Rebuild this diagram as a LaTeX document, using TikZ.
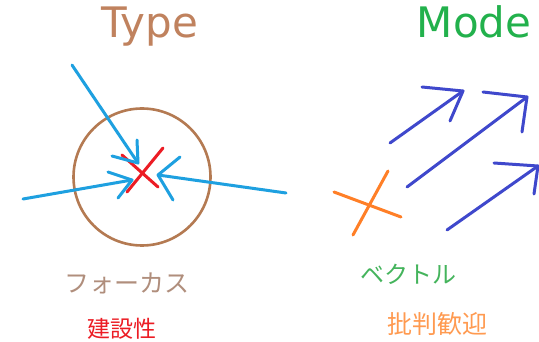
\documentclass[tikz,border=0pt]{standalone}
\usepackage{fontspec}
\newfontfamily\titlefont{DejaVu Sans}
\newfontfamily\jpfont{Noto Sans CJK JP}
\definecolor{cyanb}{HTML}{1EA0E0}
\definecolor{redx}{HTML}{EC1C24}
\definecolor{brownc}{HTML}{B47A52}
\definecolor{brownt}{HTML}{C0825E}
\definecolor{brownj}{HTML}{B08E7C}
\definecolor{greent}{HTML}{22B14C}
\definecolor{greenj}{HTML}{44B45C}
\definecolor{bluem}{HTML}{3F48CC}
\definecolor{orangex}{HTML}{FF7F27}
\definecolor{orangej}{HTML}{FF9A50}
\tikzset{
  stroke/.style={line width=3pt, line cap=round, line join=round},
  title/.style={font=\titlefont\fontsize{42}{48}\selectfont, inner sep=0pt},
  jp/.style={font=\jpfont, inner sep=0pt}
}
\begin{document}
\begin{tikzpicture}[x=1pt,y=-1pt]
\fill[white] (0,0) rectangle (539,342);
\useasboundingbox (0,0) rectangle (539,342);

% titles
\node[title, text=brownt, anchor=base] (type) at (150,38) {Type};
\node[title, text=greent, anchor=base] (mode) at (474,38) {Mode};

% focus circle
\node[draw=brownc, line width=2.6pt, circle, minimum size=137pt, inner sep=0pt] (circ) at (142,177) {};

% red cross
\coordinate (r1a) at (163,148);
\coordinate (r1b) at (127,192);
\coordinate (r2a) at (122,155);
\coordinate (r2b) at (158,187);
\draw[stroke, redx] (r1a) -- (r1b);
\draw[stroke, redx] (r2a) -- (r2b);

% cyan arrows
\coordinate (c1s) at (72,65);  \coordinate (c1t) at (138,163);
\coordinate (c1h1) at (137,140); \coordinate (c1h2) at (112,156);
\coordinate (c2s) at (23,199); \coordinate (c2t) at (132,180);
\coordinate (c2h1) at (108,172); \coordinate (c2h2) at (118,198);
\coordinate (c3s) at (286,193); \coordinate (c3t) at (158,175);
\coordinate (c3h1) at (180,157); \coordinate (c3h2) at (173,200);
\draw[stroke, cyanb] (c1s) -- (c1t);
\draw[stroke, cyanb] (c1h1) -- (c1t) -- (c1h2);
\draw[stroke, cyanb] (c2s) -- (c2t);
\draw[stroke, cyanb] (c2h1) -- (c2t) -- (c2h2);
\draw[stroke, cyanb] (c3s) -- (c3t);
\draw[stroke, cyanb] (c3h1) -- (c3t) -- (c3h2);

% orange cross
\coordinate (o1a) at (334,192);
\coordinate (o1b) at (401,217);
\coordinate (o2a) at (388,171);
\coordinate (o2b) at (353,235);
\draw[stroke, orangex] (o1a) -- (o1b);
\draw[stroke, orangex] (o2a) -- (o2b);

% blue mode arrows
\coordinate (m1s) at (390,143); \coordinate (m1t) at (463,91);
\coordinate (m1h1) at (422,87); \coordinate (m1h2) at (450,121);
\coordinate (m2s) at (407,187); \coordinate (m2t) at (527,97);
\coordinate (m2h1) at (483,92); \coordinate (m2h2) at (522,132);
\coordinate (m3s) at (447,230); \coordinate (m3t) at (538,166);
\coordinate (m3h1) at (494,163); \coordinate (m3h2) at (534,194);
\draw[stroke, bluem] (m1s) -- (m1t);
\draw[stroke, bluem] (m1h1) -- (m1t) -- (m1h2);
\draw[stroke, bluem] (m2s) -- (m2t);
\draw[stroke, bluem] (m2h1) -- (m2t) -- (m2h2);
\draw[stroke, bluem] (m3s) -- (m3t);
\draw[stroke, bluem] (m3h1) -- (m3t) -- (m3h2);

% japanese labels
\node[jp, text=brownj, font=\jpfont\fontsize{25}{30}\selectfont] (focus) at (127,283) {フォーカス};
\node[jp, text=greenj, font=\jpfont\fontsize{24}{29}\selectfont] (vector) at (408,274) {ベクトル};
\node[jp, text=redx, font=\jpfont\fontsize{23}{28}\selectfont] (constr) at (122,329) {建設性};
\node[jp, text=orangej, font=\jpfont\fontsize{25}{30}\selectfont] (crit) at (437,324) {批判歓迎};
\end{tikzpicture}
\end{document}
